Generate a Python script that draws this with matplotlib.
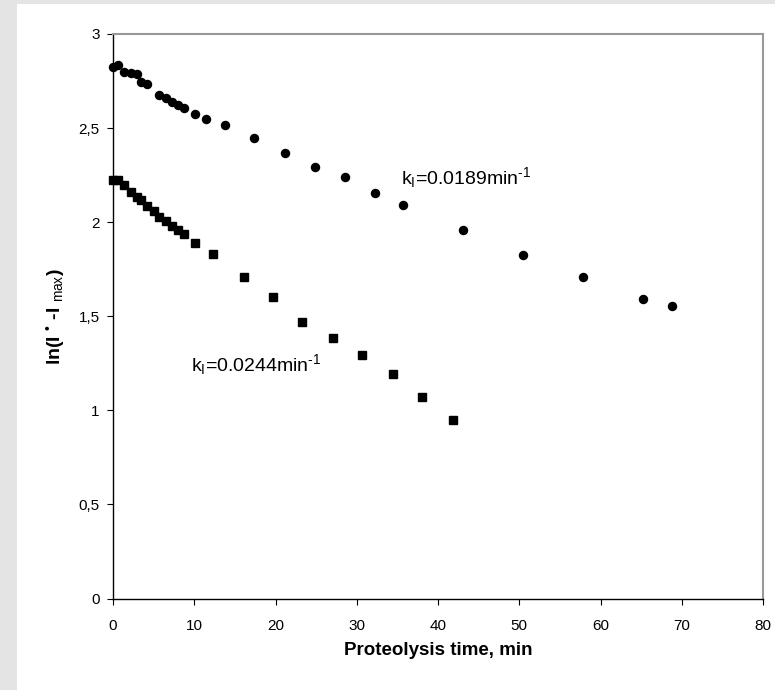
import matplotlib
matplotlib.use("Agg")
import matplotlib.pyplot as plt
from matplotlib.patches import Rectangle

plt.rcParams['font.family'] = ['Liberation Sans', 'DejaVu Sans']
plt.rcParams['mathtext.fontset'] = 'custom'
plt.rcParams['mathtext.rm'] = 'Liberation Sans'
plt.rcParams['mathtext.it'] = 'Liberation Sans:italic'
plt.rcParams['mathtext.bf'] = 'Liberation Sans:bold'

# Data
circle_time = [0, 0.6, 1.4, 2.2, 2.9, 3.5, 4.2, 5.7, 6.5, 7.2, 8.0, 8.7, 10.1,
               11.5, 13.8, 17.4, 21.2, 24.8, 28.6, 32.2, 35.7, 43.1, 50.5,
               57.8, 65.2, 68.8]
circle_ln = [2.825, 2.836, 2.800, 2.793, 2.786, 2.744, 2.736, 2.678, 2.662,
             2.640, 2.622, 2.605, 2.572, 2.548, 2.514, 2.448, 2.366, 2.294,
             2.238, 2.156, 2.090, 1.959, 1.828, 1.707, 1.592, 1.553]

square_time = [0, 0.6, 1.4, 2.2, 2.9, 3.5, 4.2, 5.0, 5.7, 6.5, 7.2, 8.0, 8.7,
               10.1, 12.35, 16.1, 19.7, 23.3, 27.1, 30.7, 34.4, 38.0, 41.8]
square_ln = [2.222, 2.222, 2.196, 2.158, 2.135, 2.116, 2.086, 2.058, 2.029,
             2.004, 1.978, 1.959, 1.938, 1.888, 1.829, 1.708, 1.602, 1.471,
             1.382, 1.293, 1.195, 1.071, 0.949]

x_ticks = [0, 10, 20, 30, 40, 50, 60, 70, 80]
y_ticks = [0, 0.5, 1, 1.5, 2, 2.5, 3]
y_tick_labels = ["0", "0,5", "1", "1,5", "2", "2,5", "3"]

label_top = r"k$_{\rm I}$=0.0189min$^{\text{-}1}$"
label_bottom = r"k$_{\rm I}$=0.0244min$^{\text{-}1}$"

fig = plt.figure(figsize=(7.75, 6.9), dpi=100)
fig.patch.set_facecolor('#e4e4e4')
fig.add_artist(Rectangle((17 / 775, 0), 1 - 17 / 775, 1 - 4 / 690,
                         transform=fig.transFigure, facecolor='white',
                         edgecolor='none', zorder=-5))

ax = fig.add_axes([113 / 775, 1 - 598.6 / 690, 650 / 775, (598.6 - 33.9) / 690])
ax.set_zorder(2)
ax.set_facecolor('white')

ax.plot(circle_time, circle_ln, linestyle='none', marker='o', color='black',
        markersize=5.8, clip_on=False, zorder=3)
ax.plot(square_time, square_ln, linestyle='none', marker='s', color='black',
        markersize=5.4, clip_on=False, zorder=3)

ax.set_xlim(0, 80)
ax.set_ylim(0, 3)
ax.set_xticks(x_ticks)
ax.set_xticklabels([str(t) for t in x_ticks])
ax.set_yticks(y_ticks)
ax.set_yticklabels(y_tick_labels)

for s in ['left', 'bottom']:
    ax.spines[s].set_color('black')
    ax.spines[s].set_linewidth(1.0)
for s in ['top', 'right']:
    ax.spines[s].set_color('#999999')
    ax.spines[s].set_linewidth(1.5)

ax.tick_params(axis='both', direction='out', length=4.5, width=0.8,
               labelsize=11, colors='black')
ax.tick_params(axis='x', pad=10)
ax.tick_params(axis='y', pad=5)

ax.set_xlabel("Proteolysis time, min", fontsize=13.5, fontweight='bold', labelpad=7)
ax.set_ylabel("ln(I $^{\u2022}$ -I $_{\\rm max}$)", fontsize=14, fontweight='bold')
ax.yaxis.set_label_coords(-(113 - 67) / 650, 0.5)

ax.text(35.4, 2.235, label_top, fontsize=14, ha='left', va='center')
ax.text(9.6, 1.241, label_bottom, fontsize=14, ha='left', va='center')

fig.savefig("out.png", dpi=100, facecolor=fig.get_facecolor())
